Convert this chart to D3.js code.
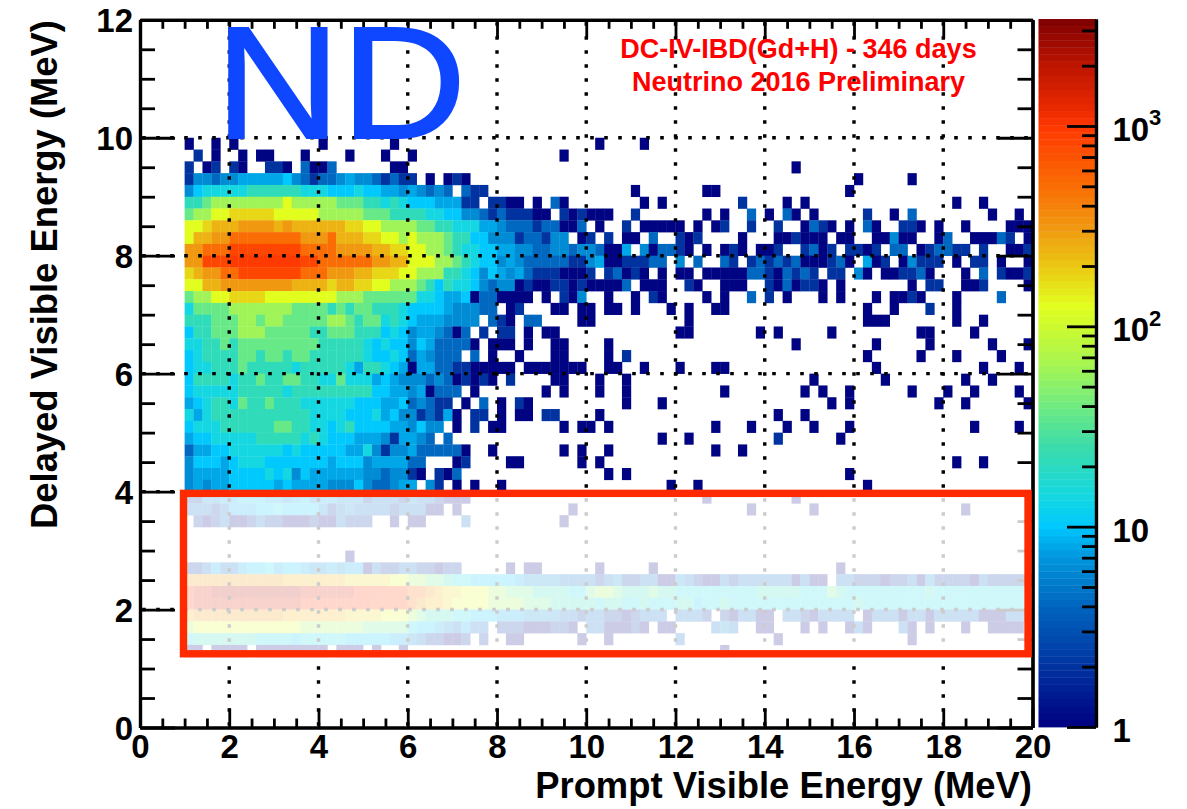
<!DOCTYPE html>
<html><head><meta charset="utf-8">
<script src="https://cdn.jsdelivr.net/npm/d3@7"></script>
<style>html,body{margin:0;padding:0;background:#fff}svg{display:block}text{font-family:"Liberation Sans",Arial,sans-serif}</style>
</head><body><svg id="c" width="1187" height="809"></svg>
<script>
// ---- data: 2D histogram ----
// x bins: 0.2 MeV wide starting at xFirstBin; y bins: 0.2 MeV wide, first row is topRow..topRow-0.2
const xFirstBin = 1.0, binW = 0.2, topRow = 10.0;
// level codes used in the rows, and the approximate bin content each stands for
const levelCodes  = ["1","2","3","4","5","6","7","8","9","a","b","c","d","e","f","g","h","i","j"];
const levelCounts = [1,2,4,6,8,10,14,22,36,60,125,170,250,320,500,800,1000,1500,2200];
// each row: "startColumn:codes" runs of non-empty bins
const delayedRowsGd = [
"0:1 3:1 5:1 15:1 23:1 46:1 51:1",
"1:2 3:1 6:1 8:11 13:1 18:1 22:1 25:1 42:1",
"0:2 2:12 5:21 9:221 13:3 14:11 16:3 23:11 68:1",
"0:24434455555643233454432322 27:1 29:121 75:1 81:1",
"0:467777788888877766676655454343 31:322 50:1 58:11 74:1",
"0:889aaaaaaaabaaaaa9998878766655522 34:2211 39:1 41:31 51:1 53:1 62:2 67:1 69:1 86:1 89:1",
"0:9aabbcccccbbbbbaaaaa99988887766443 34:23 36:2221 40:1 42:21 44:2111 50:2 58:1 60:1 63:3 65:1 67:31 70:1 76:2 79:1 81:3 90:1 93:1",
"0:bbcdddeeeededdddddccbbaaaa9988777554333233113 46:1 49:2 51:11111 57:1 59:12 63:2 66:2 69:1321 74:1 76:31 80:221 84:1 87:1 92:11 94:1",
"0:bddeeffffffffeeefdddccbbabaaa98866444233244 44:12 47:2 49:11 52:3 55:212 62:1 66:112 69:111 73:11 77:11 79:4 80:11 84:13 88:111 91:32 94:1",
"0:eefffggggggggffffeeeeddccbbaa9877665544334434 45:43 47:11 49:5 51:41 53:33 55:21 58:1 60:121 64:11 66:2 69:2312 74:22 76:12 79:33 82:123322 89:2 92:11 94:2",
"0:eeggghhhhhhhhggffffffeeddbbbaa987664543333322 45:4511 49:22233 55:4 57:3 60:32 63:232323111231 76:512 80:14222 86:1 88:22 91:1 94:1",
"0:cdeeffgggggggfffeeeddcccbbaaa8876465453222111 45:2 47:23121 53:1 55:11 58:11111 63:33213232 72:22 75:41 78:112231 87:1 89:3 91:2112",
"0:bbddeeeeeeeeddddcddccbbaaa9868776434412112212 45:11113 51:111 56:21 60:111 65:2131221 73:1 81:1 83:22 87:112 94:1",
"0:9aabbccccbbbbbbbbaaa999999776556 32:1331111 40:1 42:214 47:1 50:1 52:21 58:1 60:1 63:3 65:2 67:1 71:1 73:1 77:1 79:11 81:21 86:1 91:3",
"0:79999aaaaaaa99998989988876666544433 36:12 41:11 44:11 47:11 50:1 54:1 56:1 59:11 76:1 79:1 83:2 86:1",
"0:888999aa9aa99999aa989978765554444 34:321 38:33 44:11 56:1 76:111 86:1 89:1",
"0:688999aaa99999889998886764554313 33:2 35:22 38:1 40:11 55:11 64:1 66:1 72:1 82:11 88:1",
"0:778898999999999888887676646533331 34:111 38:1 41:11 47:1 68:1 77:1 83:1 90:1 94:1",
"0:6788889989989988888876676354333 32:3 34:1 37:1 41:11 47:1 49:2 76:1 82:1 86:1 91:1",
"0:677888988888788888758876515533221111 36:1 38:1111 42:111 47:11 51:1 55:1 59:11 77:1 89:1 93:1",
"0:68888788988998877977756544434312121 36:2 41:11 46:1 49:1 70:1 78:1 87:1 90:1",
"0:6777778888878888888886655451333 32:1 40:1 42:1 46:1 49:1 60:1 69:1 71:1 74:1 81:1 85:1 88:1 93:1",
"0:567887988988877777766655634322 31:1 33:3 35:1 37:21 49:1 53:1 72:1 74:1 84:1 87:1 94:1",
"0:7578888888888877776667564423251 32:22 35:1 37:11 40:22 46:1 66:1 69:1",
"0:67778888889988776786666554644 30:1 32:2 34:11 42:1 44:11 47:1 59:1 63:1 67:1 70:1 74:1 88:1 93:1",
"0:5667777788888787666555425543 29:3 53:1 56:1 66:2 73:1",
"0:35566777777676666655742445333331 34:1 42:1 44:1 47:1 59:1 62:1",
"0:466656777666666656664555533 30:12 36:11 44:1 46:1 86:1 89:1",
"0:455556666767465555554434421 28:213 47:1 49:1 74:1",
"0:45455666665655554446433455 27:42 30:1 32:1 35:1 54:1 57:1 76:1"
];
const delayedRowsH = [
"0:22445566655456455444233324332111 58:1 68:1",
"0:33323555667666642343333233311 30:1 43:1 63:1 70:1 87:1",
"1:21231123221112113222 23:1 25:11 31:3 42:1",
"",
"",
"18:1",
"0:2235335667566544545513223322122 36:1 38:11 46:1 52:1 73:1",
"0:eeeeeeeeeeedddddddcccccbbaa99877666665444433 44:3323422331143211323333331311 73:3322212231422221322222",
"0:hiijjjjjjjjjjiiiiiihhhgggffedccbbbaa999888877 45:9aa9888988777777777888887779877777777787777777777",
"0:hiiiiiiiiiiiihhhhhhhhggggfeddcbbbbaaaa9998888 45:8788778777886778777777777777778777777777777777777",
"0:deeeeeeeeeedddddddccccbbba98887766655544443 43:32 45:332212333 55:3332 60:213311 67:33213333 76:1333133133333111333",
"0:abbbbbbbbbbbbaaaaaaa999997665435 32:33 35:222111 41:221 45:33 47:11121 53:11 59:343 64:11 69:1 71:1 74:131 80:31 83:1 87:1 90:1111",
"0:78888888777767777766666554322112 33:2 36:11 44:1 47:1 55:3 66:1 81:1",
"0:11 3:1111 8:11111111 17:111 21:1 24:1 60:1"
];
const xMajorTicks = [0,2,4,6,8,10,12,14,16,18,20];
const yMajorTicks = [0,2,4,6,8,10,12];
const xGridValues = [2,4,6,8,10,12,14,16,18];
const yGridValues = [2,4,6,8,10];
const colorMajorTicks = [1,10,100,1000];
const colorMinorTicks = [2,3,4,5,6,7,8,9,20,30,40,50,60,70,80,90,200,300,400,500,600,700,800,900,2000,3000];
const colorBarMax = 3420;
const paletteLog10 = [0,0.3,0.6,0.85,1,1.15,1.4,1.6,1.8,2,2.1,2.3,2.5,2.7,3,3.1,3.3,3.534];
const paletteColors = ["#000080","#0032a0","#0064be","#0096dc","#00c8ff","#14d7e1","#3cdcaa","#6eeb82","#a5f555","#cdfa2d","#e1ff1e","#ebc814","#f0960f","#fa6e05","#ff3700","#e62800","#be1400","#7d0000"];
const cutBox = {x:[0.975,19.9], y:[3.97,1.25]};
const titles = {x:"Prompt Visible Energy (MeV)", y:"Delayed Visible Energy (MeV)"};
const noteLines = ["DC-IV-IBD(Gd+H) - 346 days","Neutrino 2016 Preliminary"];

// ---- scales ----
const x = d3.scaleLinear().domain([0,20]).range([140,1032.5]);
const y = d3.scaleLinear().domain([0,12]).range([727.5,19.8]);
const cy = d3.scaleLog().domain([1,colorBarMax]).range([727,19]);
const palette = d3.scaleLinear().domain(paletteLog10).range(paletteColors).interpolate(d3.interpolateRgb);
const nBands = 100;
const band = d3.scaleQuantize().domain([0,Math.log10(colorBarMax)]).range(d3.range(nBands));
const bandColor = i => palette((i+0.5)*Math.log10(colorBarMax)/nBands);
const colorOf = c => bandColor(band(Math.log10(c)));
const levelCount = d3.scaleOrdinal().domain(levelCodes).range(levelCounts);

const cells = [];
delayedRowsGd.concat(delayedRowsH).forEach((row,r)=>{
  row.split(" ").filter(Boolean).forEach(run=>{
    const [start,codes] = run.split(":");
    [...codes].forEach((code,k)=>{
      const col = +start+k;
      if(col>94) return;
      cells.push({x0:xFirstBin+col*binW, y1:topRow-r*binW, n:levelCount(code)});
    });
  });
});

const svg = d3.select("#c");
// ---- heat map ----
svg.append("g").selectAll("rect").data(cells).join("rect")
  .attr("x",d=>x(d.x0)).attr("y",d=>y(d.y1))
  .attr("width",x(binW)-x(0)+0.3).attr("height",y(0)-y(binW)+0.3)
  .attr("fill",d=>colorOf(d.n));

// ---- grid ----
const grid = svg.append("g").attr("stroke","#000").attr("stroke-width",3.4).attr("stroke-dasharray","3.6 10.4");
grid.selectAll("line.v").data(xGridValues).join("line").attr("class","v")
  .attr("x1",d=>x(d)).attr("x2",d=>x(d)).attr("y1",y(0)).attr("y2",y(12)).attr("stroke-dashoffset",-1.7);
grid.selectAll("line.h").data(yGridValues).join("line").attr("class","h")
  .attr("y1",d=>y(d)).attr("y2",d=>y(d)).attr("x1",x(0)).attr("x2",x(20)).attr("stroke-dashoffset",-2.2);

// ---- axes ----
const xMinor = d3.range(0,20.01,0.5).filter(v=>v%2!==0);
const yMinor = d3.range(0,12.01,0.5).filter(v=>v%2!==0);
function addAxis(axis,tr){
  const g = svg.append("g").attr("transform",tr).call(axis);
  g.selectAll("path.domain").attr("stroke","#000").attr("stroke-width",3.2);
  g.selectAll("line").attr("stroke","#000").attr("stroke-width",2.8);
  g.selectAll("text").attr("fill","#000").attr("font-weight","bold").attr("font-size",33);
  return g;
}
const none = ()=>"";
addAxis(d3.axisBottom(x).tickValues(xMinor).tickSizeInner(-9).tickSizeOuter(0).tickFormat(none),`translate(0,${y(0)})`);
addAxis(d3.axisBottom(x).tickValues(xMajorTicks).tickSizeInner(-19).tickSizeOuter(0).tickPadding(31).tickFormat(d3.format("d")),`translate(0,${y(0)})`)
  .selectAll("text").attr("dy",0).attr("y",30.5).attr("text-anchor","middle").attr("dominant-baseline","auto");
addAxis(d3.axisTop(x).tickValues(xMinor).tickSizeInner(-9).tickSizeOuter(0).tickFormat(none),`translate(0,${y(12)})`);
addAxis(d3.axisTop(x).tickValues(xMajorTicks).tickSizeInner(-19).tickSizeOuter(0).tickFormat(none),`translate(0,${y(12)})`);
addAxis(d3.axisLeft(y).tickValues(yMinor).tickSizeInner(-15).tickSizeOuter(0).tickFormat(none),`translate(${x(0)},0)`);
addAxis(d3.axisLeft(y).tickValues(yMajorTicks).tickSizeInner(-35).tickSizeOuter(0).tickPadding(8).tickFormat(d3.format("d")),`translate(${x(0)},0)`)
  .selectAll("text").attr("x",-7).attr("dy","0.36em");
addAxis(d3.axisRight(y).tickValues(yMinor).tickSizeInner(-15).tickSizeOuter(0).tickFormat(none),`translate(${x(20)},0)`);
addAxis(d3.axisRight(y).tickValues(yMajorTicks).tickSizeInner(-35).tickSizeOuter(0).tickFormat(none),`translate(${x(20)},0)`);

// ---- washed-out box over low delayed energy ----
svg.append("rect")
  .attr("x",x(cutBox.x[0])).attr("y",y(cutBox.y[0]))
  .attr("width",x(cutBox.x[1])-x(cutBox.x[0])).attr("height",y(cutBox.y[1])-y(cutBox.y[0]))
  .attr("fill","#fff").attr("fill-opacity",0.8)
  .attr("stroke","#ff2a00").attr("stroke-width",7.4);

// ---- annotations ----
svg.append("text").attr("transform","translate(215,137.5) scale(1.16,1.06)").attr("font-size",150)
  .attr("fill","#0f46ff").attr("stroke","#0f46ff").attr("stroke-width",1.8).attr("stroke-linejoin","miter").text("ND");
svg.append("g").selectAll("text").data(noteLines).join("text")
  .attr("x",798.5).attr("y",(d,i)=>57.5+i*33).attr("text-anchor","middle")
  .attr("font-size",27).attr("font-weight","bold").attr("fill","#ff0000").text(d=>d);

// ---- axis titles ----
svg.append("text").attr("x",1032).attr("y",798).attr("text-anchor","end")
  .attr("font-size",36.4).attr("font-weight","bold").text(titles.x);
svg.append("text").attr("transform","translate(57,20) rotate(-90)").attr("text-anchor","end")
  .attr("font-size",36.4).attr("font-weight","bold").text(titles.y);

// ---- colour bar ----
const barX0 = 1038.5, barX1 = 1096;
const bandEdges = d3.range(nBands+1).map(i=>Math.pow(10,i*Math.log10(colorBarMax)/nBands));
svg.append("g").selectAll("rect").data(d3.range(nBands)).join("rect")
  .attr("x",barX0).attr("width",barX1-barX0)
  .attr("y",i=>cy(bandEdges[i+1])).attr("height",i=>cy(bandEdges[i])-cy(bandEdges[i+1])+0.4)
  .attr("fill",bandColor);
function addBarAxis(vals,size){
  const g = svg.append("g").attr("transform",`translate(${barX1},0)`)
    .call(d3.axisRight(cy).tickValues(vals).tickSizeInner(-size).tickSizeOuter(0).tickFormat(none));
  g.selectAll("path.domain").attr("stroke","#000").attr("stroke-width",3.2);
  g.selectAll("line").attr("stroke","#000").attr("stroke-width",2.8);
}
addBarAxis(colorMinorTicks,14);
addBarAxis(colorMajorTicks,29);
const barLabels = svg.append("g").attr("font-weight","bold").attr("font-size",33);
colorMajorTicks.forEach(v=>{
  const exp = Math.round(Math.log10(v));
  const base = cy(v)+15;
  const t = barLabels.append("text").attr("x",1112.5).attr("y",base);
  t.append("tspan").text(exp===0?"1":"10");
  if(exp>1){
    barLabels.append("text").attr("x",1149).attr("y",base-15.5).attr("font-size",22).text(exp);
  }
});
</script></body></html>
